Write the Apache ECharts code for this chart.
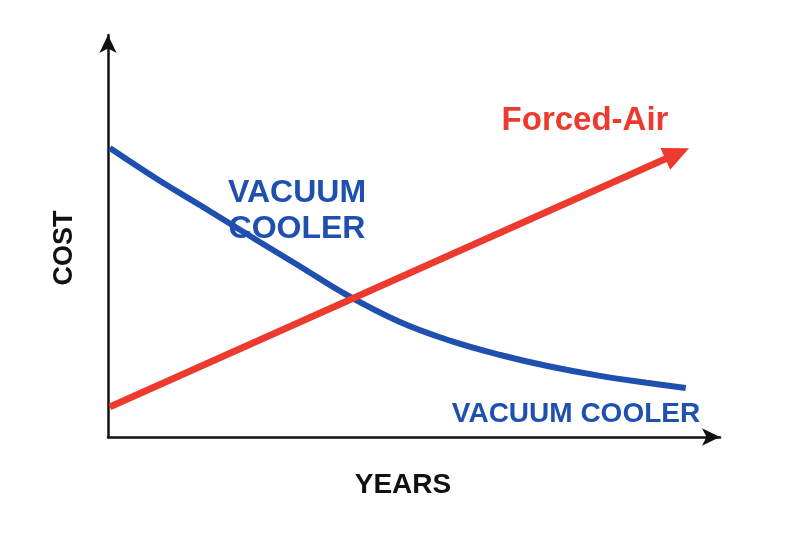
<!DOCTYPE html><html><head><meta charset="utf-8">
<script src="https://cdn.jsdelivr.net/npm/echarts@6/dist/echarts.min.js"></script>
<style>html,body{margin:0;background:#fff}#c{width:800px;height:533px}</style></head><body><div id="c"></div><script>
const vacuumX=[0.3,8,15,24.8,31,38.7,47.7,56,64.1,72,80.4,88,94.4];
const vacuumY=[71.9,64.2,57.7,48.5,42.8,35.6,28.6,23.9,20.4,17.6,15.2,13.5,12.2];
const forcedX=[0.3,93];
const forcedY=[7.5,70.5];
const xTitle='YEARS', yTitle='COST';
const ch=echarts.init(document.getElementById('c'));
const blue='#1f50b0', red='#ec3a2e';
const ax={type:'value',min:0,max:100,axisLine:{show:true,lineStyle:{color:'#111',width:2.5},symbol:['none','arrow'],symbolSize:[13,18]},axisTick:{show:false},axisLabel:{show:false},splitLine:{show:false}};
ch.setOption({animation:false,
grid:{left:108,right:80,top:35,bottom:96},
xAxis:ax,yAxis:ax,
series:[
{type:'line',smooth:0.4,symbol:'none',lineStyle:{color:blue,width:6},data:vacuumX.map((x,i)=>[x,vacuumY[i]])},
{type:'line',symbol:'none',lineStyle:{color:red,width:7},data:forcedX.map((x,i)=>i===forcedX.length-1?{value:[x,forcedY[i]],symbol:'triangle',symbolSize:[24,26],symbolRotate:-65.8,itemStyle:{color:red}}:[x,forcedY[i]])}
],
graphic:[
{type:'text',x:65,y:248,rotation:Math.PI/2,style:{text:yTitle,x:0,y:0,font:'bold 27px "Liberation Sans", Arial',fill:'#111',align:'center',verticalAlign:'middle'}},
{type:'text',style:{text:xTitle,x:403,y:485,font:'bold 28px "Liberation Sans", Arial',fill:'#111',align:'center',verticalAlign:'middle'}},
{type:'text',style:{text:'VACUUM\nCOOLER',x:297,y:211,lineHeight:36,font:'bold 32px "Liberation Sans", Arial',fill:blue,align:'center',verticalAlign:'middle'}},
{type:'text',style:{text:'VACUUM COOLER',x:576,y:414,font:'bold 28px "Liberation Sans", Arial',fill:blue,align:'center',verticalAlign:'middle'}},
{type:'text',style:{text:'Forced-Air',x:585,y:121,font:'bold 33px "Liberation Sans", Arial',fill:red,align:'center',verticalAlign:'middle'}}
]});
</script></body></html>
